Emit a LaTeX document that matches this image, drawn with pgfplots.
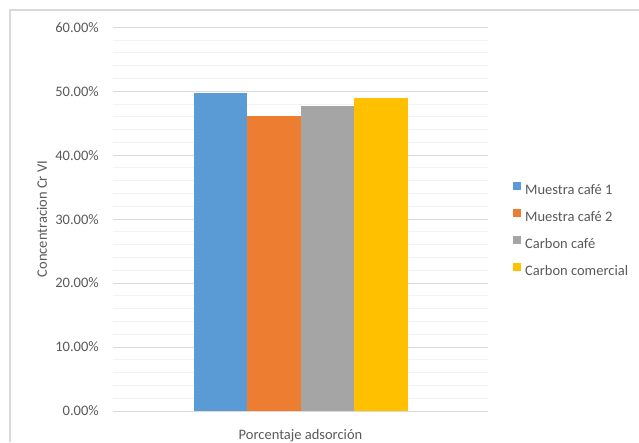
\documentclass[border=0pt]{standalone}
\usepackage{fontspec}
\setmainfont{Carlito}
\usepackage{pgfplots}
\pgfplotsset{compat=1.18}

\definecolor{serieA}{HTML}{5B9BD5}
\definecolor{serieB}{HTML}{ED7D31}
\definecolor{serieC}{HTML}{A5A5A5}
\definecolor{serieD}{HTML}{FFC000}
\definecolor{txtgray}{HTML}{595959}
\definecolor{gridmajor}{HTML}{D9D9D9}
\definecolor{gridminor}{HTML}{F2F2F2}
\definecolor{frame}{HTML}{D9D9D9}

\newcommand{\chartfont}{\fontsize{14.5}{17}\selectfont}

\begin{document}
\begin{tikzpicture}
\useasboundingbox (0,0) rectangle (639pt,442pt);
% chart area frame
\draw[frame, line width=1.2pt] (10pt,0pt) -- (10pt,432pt) -- (639pt,432pt);
\begin{axis}[
  at={(113pt,31pt)}, anchor=south west,
  scale only axis,
  width=375pt, height=383.7pt,
  font=\chartfont,
  /pgf/number format/assume math mode=true,
  ybar=0pt, bar width=53.5pt,
  xmin=-1, xmax=1,
  ymin=0, ymax=60,
  xtick={0}, xticklabels={Porcentaje adsorción},
  xticklabel style={anchor=base, yshift=-24pt, inner sep=0pt, text=txtgray, font=\chartfont},
  ytick={0,10,...,60},
  minor y tick num=4,
  yticklabel={\pgfmathprintnumber[fixed,fixed zerofill,precision=2]{\tick}\%},
  yticklabel style={anchor=east, inner sep=0pt, xshift=-14pt, text=txtgray, font=\chartfont},
  ymajorgrids, yminorgrids,
  major grid style={gridmajor, line width=1pt},
  minor grid style={gridminor, line width=1pt},
  axis line style={draw=none},
  tick style={draw=none},
  ylabel={Concentracion Cr VI},
  ylabel style={at={(axis description cs:-0.1893,0.5)}, anchor=center, text=txtgray, font=\chartfont},
  legend cell align=left,
  legend image code/.code={\fill[#1] (0pt,0.6pt) rectangle (8pt,8.6pt);},
  legend style={at={(1,0.5)}, anchor=west, xshift=25pt, yshift=-11pt,
    draw=none, fill=none, inner sep=0pt, row sep=12pt,
    nodes={inner sep=0pt, text height=10pt, text depth=3pt, text=txtgray},
    /tikz/column 2/.style={column sep=0pt},
    /tikz/every odd column/.append style={column sep=4pt},
    font=\chartfont},
]
\addplot[draw=none, fill=serieA] coordinates {(0,49.73)};
\addplot[draw=none, fill=serieB] coordinates {(0,46.09)};
\addplot[draw=none, fill=serieC] coordinates {(0,47.70)};
\addplot[draw=none, fill=serieD] coordinates {(0,48.90)};
\legend{Muestra café 1, Muestra café 2, Carbon café, Carbon comercial}
\end{axis}
\end{tikzpicture}
\end{document}
